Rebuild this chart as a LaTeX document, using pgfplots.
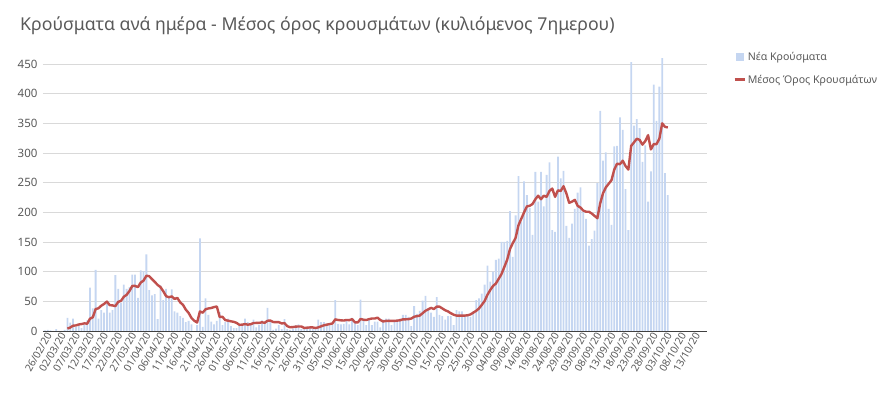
\documentclass[border=0pt]{standalone}
\usepackage{fontspec}
\setmainfont{Noto Sans}
\usepackage{pgfplots}
\usepackage{pgfplotstable}
\pgfplotsset{compat=1.18}
\definecolor{barblue}{RGB}{197,214,241}
\definecolor{mared}{RGB}{192,80,77}
\definecolor{txtgray}{RGB}{89,89,89}
\definecolor{gridgray}{RGB}{217,217,217}
\pgfplotstableread{
d v
0 1
1 2
2 1
3 0
4 3
5 0
6 0
7 2
8 22
9 14
10 21
11 7
12 11
13 5
14 10
15 18
16 73
17 38
18 103
19 21
20 35
21 31
22 46
23 31
24 35
25 94
26 71
27 48
28 78
29 71
30 74
31 95
32 95
33 56
34 102
35 101
36 129
37 69
38 60
39 62
40 20
41 77
42 52
43 71
44 56
45 70
46 33
47 31
48 25
49 22
50 15
51 17
52 11
53 0
54 10
55 156
56 7
57 55
58 27
59 16
60 11
61 17
62 32
63 10
64 15
65 21
66 8
67 5
68 5
69 9
70 12
71 21
72 15
73 13
74 19
75 6
76 10
77 18
78 16
79 39
80 15
81 2
82 4
83 10
84 3
85 20
86 3
87 2
88 4
89 10
90 11
91 3
92 3
93 6
94 5
95 4
96 3
97 19
98 15
99 15
100 13
101 13
102 10
103 52
104 12
105 11
106 12
107 20
108 11
109 22
110 14
111 10
112 53
113 21
114 10
115 19
116 10
117 16
118 16
119 6
120 19
121 21
122 21
123 10
124 16
125 19
126 21
127 27
128 27
129 24
130 8
131 42
132 29
133 34
134 51
135 59
136 38
137 31
138 24
139 57
140 27
141 25
142 19
143 25
144 25
145 10
146 35
147 33
148 33
149 27
150 27
151 24
152 33
153 52
154 55
155 63
156 78
157 110
158 83
159 100
160 120
161 122
162 150
163 150
164 152
165 202
166 125
167 195
168 261
169 184
170 252
171 229
172 207
173 162
174 268
175 218
176 268
177 210
178 263
179 284
180 170
181 167
182 294
183 257
184 270
185 177
186 157
187 181
188 206
189 233
190 242
191 202
192 189
193 144
194 155
195 169
196 249
197 371
198 287
199 301
200 206
201 179
202 311
203 312
204 360
205 339
206 239
207 170
208 453
209 346
210 357
211 342
212 285
213 313
214 218
215 269
216 415
217 354
218 412
219 460
220 266
221 229
}\bars
\pgfplotstableread{
d v
8 4.0
9 5.9
10 8.9
11 9.4
12 11.0
13 11.7
14 12.9
15 12.3
16 20.7
17 23.1
18 36.9
19 38.3
20 42.6
21 45.6
22 49.6
23 43.6
24 43.1
25 41.9
26 49.0
27 50.9
28 57.6
29 61.1
30 67.3
31 75.9
32 76.0
33 73.9
34 81.6
35 84.9
36 93.1
37 92.4
38 87.4
39 82.7
40 77.6
41 74.0
42 67.0
43 58.7
44 56.9
45 58.3
46 54.1
47 55.7
48 48.3
49 44.0
50 36.0
51 30.4
52 22.0
53 17.3
54 14.3
55 33.0
56 30.9
57 36.6
58 38.0
59 38.7
60 40.3
61 41.3
62 23.6
63 24.0
64 18.3
65 17.4
66 16.3
67 15.4
68 13.7
69 10.4
70 10.7
71 11.6
72 10.7
73 11.4
74 13.4
75 13.6
76 13.7
77 14.6
78 13.9
79 17.3
80 17.6
81 15.1
82 14.9
83 14.9
84 12.7
85 13.3
86 8.1
87 6.3
88 6.6
89 7.4
90 7.6
91 7.6
92 5.1
93 5.6
94 6.0
95 6.0
96 5.0
97 6.1
98 7.9
99 9.6
100 10.6
101 11.7
102 12.6
103 19.6
104 18.6
105 18.0
106 17.6
107 18.6
108 18.3
109 20.0
110 14.6
111 14.3
112 20.3
113 19
114 18.5
115 20
116 21
117 21
118 22.5
119 18.5
120 16
121 17
122 17
123 17
124 17
125 17.5
126 18
127 19.7
128 19.7
129 20
130 21
131 24
132 25
133 26
134 30
135 34
136 36.5
137 39
138 37
139 41
140 41
141 38
142 35
143 33
144 30
145 27.5
146 26
147 26
148 26
149 26
150 26.5
151 28
152 31
153 34
154 38
155 44
156 50.5
157 61
158 69
159 76
160 80
161 88
162 96
163 108
164 120
165 138
166 148
167 157
168 178
169 189
170 200
171 210
172 211
173 214
174 222
175 228
176 222
177 228
178 226
179 236
180 240
181 226
182 237
183 236
184 244
185 232
186 216
187 218
188 221
189 211
190 208
191 203
192 201
193 201
194 198
195 194
196 190
197 215
198 232
199 242
200 248
201 254
202 272
203 282
204 281
205 287
206 278
207 272
208 312
209 318
210 324
211 322
212 314
213 320
214 330
215 306
216 315
217 315
218 324
219 350
220 344
221 343
}\ma
\begin{document}
\begin{tikzpicture}
\useasboundingbox (0,0) rectangle (896pt,395pt);
\begin{axis}[
  at={(43pt,64pt)}, anchor=south west,
  scale only axis, width=664pt, height=278.9pt,
  xmin=-0.67, xmax=234.9, ymin=0, ymax=470,
  axis x line=bottom, axis y line=left,
  x axis line style={-, draw=black!75, line width=0.9pt},
  y axis line style={draw=none},
  ytick={0,50,...,450},
  xtick={0,5,...,230},
  xticklabels={26/02/20,02/03/20,07/03/20,12/03/20,17/03/20,22/03/20,27/03/20,01/04/20,06/04/20,11/04/20,16/04/20,21/04/20,26/04/20,01/05/20,06/05/20,11/05/20,16/05/20,21/05/20,26/05/20,31/05/20,05/06/20,10/06/20,15/06/20,20/06/20,25/06/20,30/06/20,05/07/20,10/07/20,15/07/20,20/07/20,25/07/20,30/07/20,04/08/20,09/08/20,14/08/20,19/08/20,24/08/20,29/08/20,03/09/20,08/09/20,13/09/20,18/09/20,23/09/20,28/09/20,03/10/20,08/10/20,13/10/20},
  major tick length=0pt,
  ymajorgrids, grid style={gridgray, line width=0.9pt},
  /pgf/number format/assume math mode=true,
  tick label style={text=txtgray},
  yticklabel style={font=\fontsize{11.5}{13}\selectfont, xshift=-2pt},
  xticklabel style={font=\fontsize{10.3}{11}\selectfont, rotate=60, anchor=east, inner sep=1pt, yshift=-5pt, xshift=1pt},
  title={Κρούσματα ανά ημέρα - Μέσος όρος κρουσμάτων (κυλιόμενος 7ημερου)},
  title style={at={(-0.0346,1.0577)}, anchor=base west, font=\fontsize{17.7}{20}\selectfont, text=txtgray, inner sep=0pt},
  legend style={at={(1.035,1.015)}, anchor=north west, draw=none, fill=none, font=\fontsize{10.6}{12}\selectfont, text=txtgray, row sep=9pt, cells={anchor=west}},
]
\addplot[ybar, bar width=1.8pt, fill=barblue, draw=none,
  legend image code/.code={\fill[barblue] (0pt,-4pt) rectangle (8pt,4pt);}] table[x=d,y=v] {\bars};
\addlegendentry{Νέα Κρούσματα}
\addplot[mared, line width=2.4pt, line join=round, mark=none,
  legend image code/.code={\draw[mared, line width=2.4pt] (-1pt,0pt) -- (9pt,0pt);}] table[x=d,y=v] {\ma};
\addlegendentry{Μέσος Όρος Κρουσμάτων}
\end{axis}
\end{tikzpicture}
\end{document}
